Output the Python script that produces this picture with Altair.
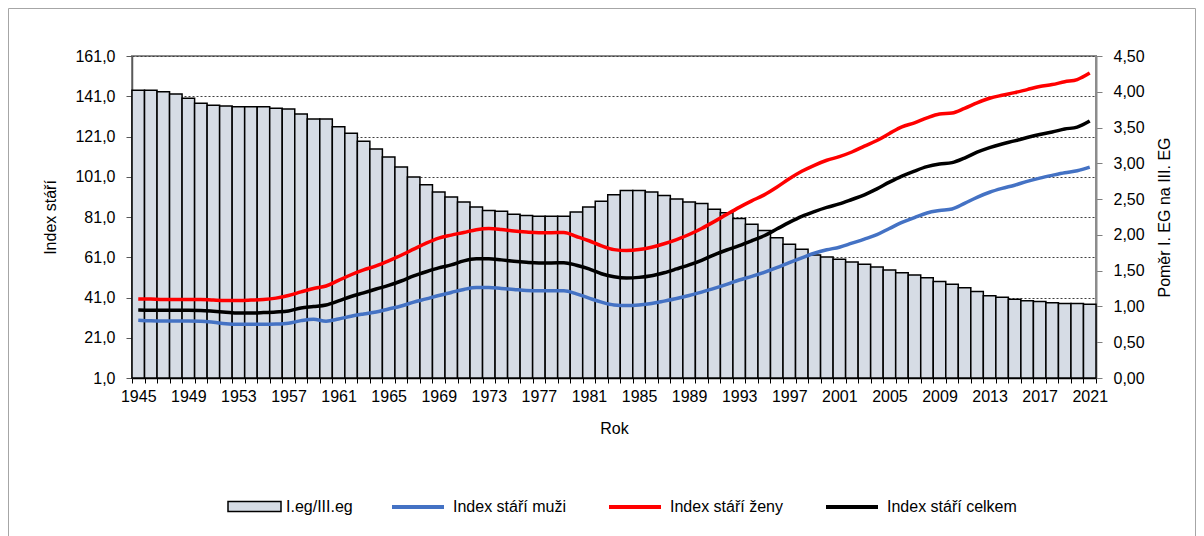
import altair as alt
import pandas as pd

years = list(range(1945, 2022))

# I.eg/III.eg ratio (right axis, bars)
ratio = [
    4.02, 4.02, 4.00, 3.97, 3.91, 3.84, 3.81, 3.80, 3.79, 3.79,
    3.79, 3.77, 3.76, 3.69, 3.62, 3.62, 3.51, 3.42, 3.31, 3.20,
    3.09, 2.95, 2.81, 2.70, 2.60, 2.53, 2.46, 2.39, 2.34, 2.33,
    2.29, 2.27, 2.26, 2.26, 2.26, 2.32, 2.39, 2.47, 2.56, 2.62,
    2.62, 2.60, 2.55, 2.50, 2.46, 2.44, 2.36, 2.31, 2.23, 2.15,
    2.06, 1.96, 1.87, 1.80, 1.72, 1.69, 1.66, 1.62, 1.59, 1.55,
    1.51, 1.47, 1.44, 1.40, 1.35, 1.31, 1.26, 1.21, 1.15, 1.13,
    1.10, 1.08, 1.07, 1.05, 1.04, 1.04, 1.03,
]

# Index stáří muži
men = [
    29.7, 29.4, 29.3, 29.3, 29.3, 29.2, 28.7, 28.0, 27.7, 27.7,
    27.7, 27.8, 28.2, 29.5, 30.2, 29.2, 30.3, 31.7, 32.8, 33.8,
    35.3, 36.8, 38.7, 40.3, 42.0, 43.5, 45.0, 46.0, 46.0, 45.5,
    45.0, 44.5, 44.3, 44.3, 44.3, 42.8, 40.7, 38.7, 37.3, 37.0,
    37.3, 38.0, 39.2, 40.5, 42.0, 43.7, 45.5, 47.5, 49.7, 51.5,
    53.5, 55.8, 58.3, 60.7, 63.0, 64.7, 66.0, 68.0, 70.0, 72.2,
    75.3, 78.3, 80.7, 83.0, 84.2, 85.0, 87.8, 90.8, 93.3, 95.2,
    96.8, 98.7, 100.3, 101.7, 103.0, 104.0, 105.8,
]

# Index stáří ženy
women = [
    40.3, 40.2, 40.0, 40.0, 40.0, 40.0, 39.7, 39.5, 39.5, 39.7,
    40.0, 40.7, 42.0, 43.8, 45.5, 46.7, 49.5, 52.3, 54.7, 56.7,
    59.2, 62.0, 65.0, 68.0, 70.5, 72.0, 73.3, 74.7, 75.3, 74.8,
    74.0, 73.5, 73.2, 73.2, 73.3, 71.3, 69.2, 66.7, 64.8, 64.3,
    64.8, 66.0, 67.7, 69.8, 72.3, 75.3, 78.7, 82.3, 85.8, 89.0,
    92.0, 95.8, 100.0, 103.7, 106.7, 109.2, 111.0, 113.3, 116.2, 119.0,
    122.5, 125.8, 127.8, 130.3, 132.2, 132.7, 135.0, 137.7, 140.0, 141.5,
    142.8, 144.3, 145.8, 146.8, 148.2, 149.3, 152.5,
]

# Index stáří celkem
total = [
    34.8, 34.7, 34.7, 34.7, 34.7, 34.6, 34.2, 33.7, 33.3, 33.3,
    33.5, 33.8, 34.3, 35.8, 36.5, 37.3, 39.3, 41.5, 43.3, 45.2,
    47.0, 49.2, 51.7, 53.8, 55.7, 57.2, 59.2, 60.2, 60.3, 59.7,
    59.0, 58.5, 58.2, 58.2, 58.3, 57.0, 55.2, 52.8, 51.3, 50.7,
    51.0, 51.8, 53.3, 55.2, 57.2, 59.5, 62.2, 64.6, 66.8, 69.2,
    71.7, 75.0, 78.3, 81.3, 83.7, 85.8, 87.5, 89.7, 92.0, 95.0,
    98.3, 101.3, 103.8, 106.0, 107.3, 108.0, 110.3, 113.2, 115.5, 117.3,
    118.8, 120.5, 122.0, 123.2, 124.7, 125.7, 128.7,
]

bar_name = "I.eg/III.eg"
line_names = ["Index stáří muži", "Index stáří ženy", "Index stáří celkem"]
line_colors = ["#4472C4", "#FF0000", "#000000"]
left_ticks = [1, 21, 41, 61, 81, 101, 121, 141, 161]
right_ticks = [0, 0.5, 1, 1.5, 2, 2.5, 3, 3.5, 4, 4.5]

bar_df = pd.DataFrame({"Rok": years, "Pomer": ratio, "serie": bar_name})
line_df = pd.concat(
    [pd.DataFrame({"Rok": years, "Index": v, "serie": n})
     for n, v in zip(line_names, [men, women, total])],
    ignore_index=True,
)

FONT = "Liberation Sans"

x_enc = alt.X(
    "Rok:O",
    scale=alt.Scale(paddingInner=0, paddingOuter=0),
    axis=alt.Axis(
        title="Rok",
        labelExpr="(datum.value - 1945) % 4 == 0 ? datum.value : ''",
        labelAngle=0,
        labelOverlap=False,
        tickBand="extent",
        tickSize=5,
        tickColor="black",
        domainColor="black",
        domainWidth=1.5,
        labelPadding=5,
        titlePadding=16,
        grid=False,
    ),
)

frame = alt.Chart(pd.DataFrame({"k": [0]})).mark_rect(
    fill="white", fillOpacity=0, stroke="#A6A6A6", strokeWidth=1
).encode(
    x=alt.value(-123.5), x2=alt.value(1063.5),
    y=alt.value(-47.5), y2=alt.value(490),
)

bars = alt.Chart(bar_df).mark_bar(stroke="black", strokeWidth=1.5).encode(
    x=x_enc,
    y=alt.Y(
        "Pomer:Q",
        scale=alt.Scale(domain=[0, 4.5], nice=False, zero=True),
        axis=alt.Axis(
            orient="right",
            values=right_ticks,
            labelExpr="replace(format(datum.value, '.2f'), '.', ',')",
            title="Poměr I. EG na III. EG",
            titleAngle=270,
            grid=False,
            tickSize=6,
            tickColor="#7F7F7F",
            domainColor="#8C8C8C",
            domainWidth=2,
            labelPadding=11,
            titlePadding=28,
        ),
    ),
    fill=alt.Fill(
        "serie:N",
        scale=alt.Scale(domain=[bar_name], range=["#D6DCE5"]),
        legend=alt.Legend(
            title=None,
            orient="none",
            legendX=95,
            legendY=423,
            symbolType="M-1,-0.19H1V0.19H-1Z",
            symbolSize=2809,
            symbolStrokeColor="black",
            symbolStrokeWidth=1.5,
            labelOffset=4,
        ),
    ),
)

lines = alt.Chart(line_df).mark_line(strokeWidth=3.5, interpolate="monotone").encode(
    x=x_enc,
    y=alt.Y(
        "Index:Q",
        scale=alt.Scale(domain=[1, 161], nice=False, zero=False),
        axis=alt.Axis(
            orient="left",
            values=left_ticks,
            labelExpr="replace(format(datum.value, '.1f'), '.', ',')",
            title="Index stáří",
            grid=True,
            gridColor="#404040",
            gridDash=[2, 2],
            gridWidth=1,
            tickSize=6,
            tickColor="#595959",
            domainColor="#595959",
            domainWidth=1.5,
            labelPadding=11,
            titlePadding=16,
        ),
    ),
    color=alt.Color(
        "serie:N",
        scale=alt.Scale(domain=line_names, range=line_colors),
        legend=alt.Legend(
            title=None,
            orient="none",
            legendX=258,
            legendY=423,
            direction="horizontal",
            symbolType="stroke",
            symbolSize=2704,
            symbolStrokeWidth=4,
            columnPadding=35,
            labelOffset=7,
        ),
    ),
)

chart = (
    alt.layer(frame, bars, lines)
    .resolve_scale(y="independent")
    .properties(
        width=964,
        height=322,
        padding={"left": 124, "top": 48, "right": 100, "bottom": 158},
        autosize=alt.AutoSizeParams(type="none"),
        background="white",
    )
    .configure_view(stroke="#8C8C8C", strokeWidth=2)
    .configure_axis(
        labelFont=FONT, labelFontSize=16, labelColor="black",
        titleFont=FONT, titleFontSize=16, titleFontWeight="normal", titleColor="black",
    )
    .configure_legend(
        labelFont=FONT, labelFontSize=16, labelColor="black",
    )
)

chart.save("out.html", embed_options={"renderer": "svg", "actions": False})
